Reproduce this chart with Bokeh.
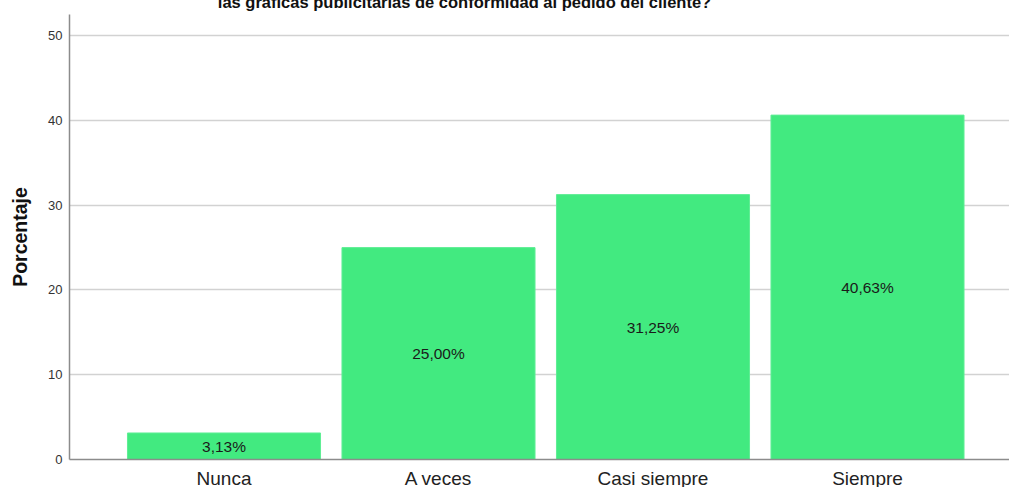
from bokeh.plotting import figure
from bokeh.models import ColumnDataSource, Range1d, FixedTicker, LabelSet, LinearAxis
from bokeh.core.properties import value
from bokeh.embed import file_html
from bokeh.resources import INLINE

# ---- data ----
categories = ["Nunca", "A veces", "Casi siempre", "Siempre"]
percentages = [3.13, 25.00, 31.25, 40.63]
y_ticks = [0, 10, 20, 30, 40, 50]
title_text = "las gráficas publicitarias de conformidad al pedido del cliente?"
y_label = "Porcentaje"

FONT = "Liberation Sans"
BAR_COLOR = "#42EA80"
TOP_SHIFT = 12      # canvas starts above the window so the title line is cut, as in the reference
BOTTOM_CUT = 4      # category labels run to the window's lower edge, as in the reference

xs = list(range(len(categories)))
labels = [f"{v:.2f}".replace(".", ",") + "%" for v in percentages]
src = ColumnDataSource(dict(
    x=xs,
    top=percentages,
    mid=[v / 2 for v in percentages],
    label=labels,
))

p = figure(
    width=1009, height=487 + TOP_SHIFT + BOTTOM_CUT,
    x_range=Range1d(-0.7203, 3.662),
    y_range=Range1d(0, 52.5),
    output_backend="svg",
    toolbar_location=None,
    min_border_left=69, min_border_right=0,
    min_border_top=14 + TOP_SHIFT, min_border_bottom=28 + BOTTOM_CUT,
    background_fill_color="white",
    border_fill_color="white",
    outline_line_color=None,
    styles={"margin-top": f"-{TOP_SHIFT}px", "margin-bottom": f"-{BOTTOM_CUT}px"},
)

p.vbar(x="x", top="top", bottom=0, width=0.9, source=src,
       fill_color=BAR_COLOR, line_color="#5FEE95", line_width=1)

p.add_layout(LabelSet(x="x", y="mid", text="label", source=src,
                      text_align="center", text_baseline="middle",
                      text_font=value(FONT), text_font_size=value("15.5px"),
                      text_color="#1a1a1a"))

# x axis with the categories
p.xaxis.ticker = FixedTicker(ticks=xs)
p.xaxis.major_label_overrides = {i: c for i, c in zip(xs, categories)}
p.xaxis.major_label_text_font = FONT
p.xaxis.major_label_text_font_size = "19px"
p.xaxis.major_label_text_color = "#222222"
p.xaxis.major_label_standoff = 8
p.xaxis.major_tick_out = 0
p.xaxis.major_tick_in = 0
p.xaxis.major_tick_line_color = None
p.xaxis.minor_tick_line_color = None
p.xaxis.axis_line_color = "#8c8c8c"
p.xaxis.axis_line_width = 1.5

# y axis
p.yaxis.ticker = FixedTicker(ticks=y_ticks)
p.yaxis.major_tick_out = 0
p.yaxis.major_tick_in = 0
p.yaxis.major_label_text_font = FONT
p.yaxis.major_label_text_font_size = "13px"
p.yaxis.major_label_text_color = "#333333"
p.yaxis.major_label_standoff = 7
p.yaxis.major_tick_line_color = None
p.yaxis.minor_tick_line_color = None
p.yaxis.axis_line_color = "#8c8c8c"
p.yaxis.axis_line_width = 1.5
p.yaxis.axis_label = y_label
p.yaxis.axis_label_text_font = FONT
p.yaxis.axis_label_text_font_size = "19.5px"
p.yaxis.axis_label_text_font_style = "bold"
p.yaxis.axis_label_text_color = "#111111"
p.yaxis.axis_label_standoff = 14

p.xgrid.grid_line_color = None
p.ygrid.grid_line_color = "#d2d2d2"
p.ygrid.grid_line_width = 1.3

# second title line (first line lies above the window), drawn as a top axis label
title_x = 1.1212
top_axis = LinearAxis(
    ticker=FixedTicker(ticks=[title_x]),
    major_label_overrides={title_x: title_text},
    major_label_text_font=FONT,
    major_label_text_font_size="16.5px",
    major_label_text_font_style="bold",
    major_label_text_color="#111111",
    major_label_standoff=4,
    major_tick_out=0, major_tick_in=0,
    major_tick_line_color=None, minor_tick_line_color=None,
    axis_line_color=None,
)
p.add_layout(top_axis, "above")

html = file_html(p, INLINE)
with open("out.html", "w") as f:
    f.write(html)
